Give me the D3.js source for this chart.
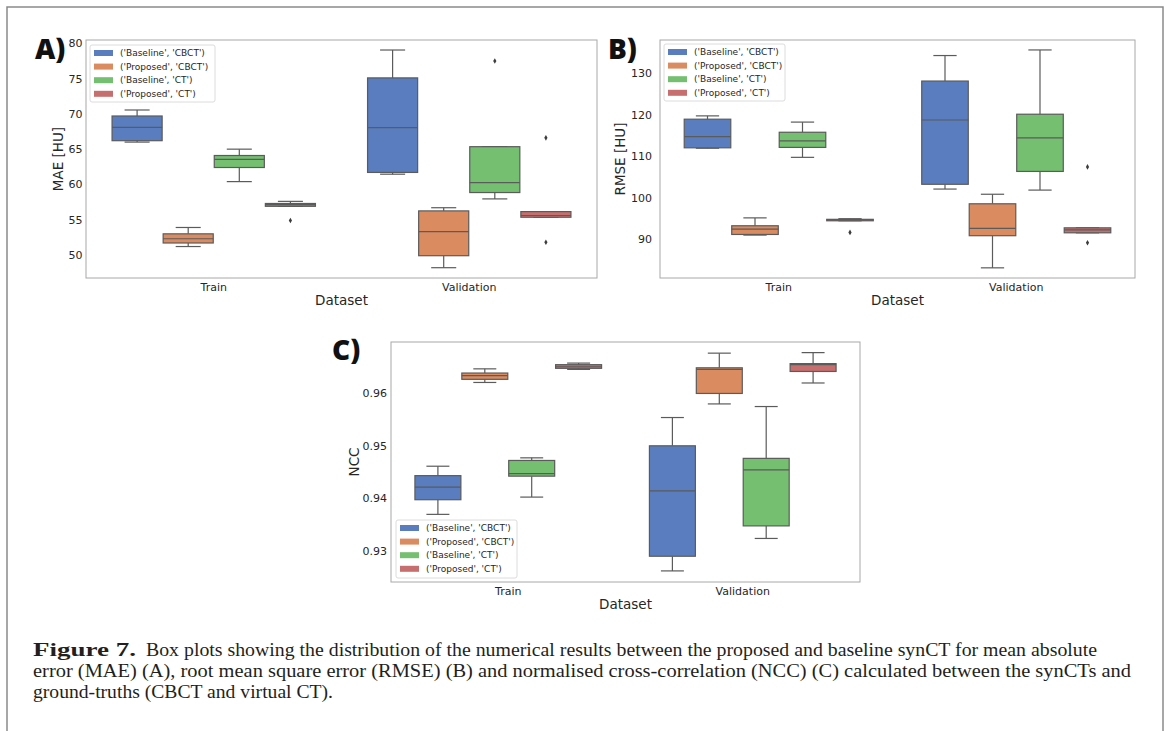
<!DOCTYPE html>
<html>
<head>
<meta charset="utf-8">
<script src="https://cdn.jsdelivr.net/npm/d3@7"></script>
<style>
  body { margin: 0; background: #fff; }
  svg { display: block; }
</style>
</head>
<body>
<script>
const datasets = ['Train', 'Validation'];
const series = ["('Baseline', 'CBCT')", "('Proposed', 'CBCT')", "('Baseline', 'CT')", "('Proposed', 'CT')"];
const colors = ['#597dbf', '#da8b5f', '#75bf71', '#c76e6e'];

// [low whisker, Q1, median, Q3, high whisker], one row per series
const maeTrain = [[66.0, 66.2, 68.1, 69.7, 70.55], [51.2, 51.7, 52.3, 53.0, 53.9], [60.4, 62.4, 63.55, 64.1, 65.0], [56.9, 56.9, 57.15, 57.3, 57.6]];
const maeValidation = [[61.45, 61.7, 68.05, 75.1, 79.05], [48.2, 49.9, 53.3, 56.25, 56.7], [57.95, 58.85, 60.25, 65.35, 65.35], [55.35, 55.35, 55.6, 56.15, 56.15]];
// [dataset index, series index, value]
const maeOutliers = [[0, 3, 54.9], [1, 2, 77.5], [1, 3, 66.6], [1, 3, 51.8]];
const maeTicks = [50, 55, 60, 65, 70, 75, 80];

const rmseTrain = [[111.9, 112.0, 114.7, 118.9, 119.7], [90.95, 91.1, 92.4, 93.2, 95.1], [109.7, 112.1, 113.65, 115.75, 118.2], [94.4, 94.4, 94.6, 94.75, 94.9]];
const rmseValidation = [[102.05, 103.2, 118.7, 128.1, 134.25], [83.05, 90.8, 92.55, 98.5, 100.8], [101.8, 106.3, 114.4, 120.1, 135.6], [91.5, 91.5, 92.2, 92.7, 92.7]];
const rmseOutliers = [[0, 3, 91.6], [1, 3, 107.4], [1, 3, 89.1]];
const rmseTicks = [90, 100, 110, 120, 130];

const nccTrain = [[0.9369, 0.9397, 0.9421, 0.9443, 0.9461], [0.9621, 0.9627, 0.9634, 0.9639, 0.9647], [0.9402, 0.9442, 0.9447, 0.9472, 0.9477], [0.9646, 0.9648, 0.9651, 0.9655, 0.9658]];
const nccValidation = [[0.9261, 0.9289, 0.9414, 0.9500, 0.9554], [0.9580, 0.9600, 0.9646, 0.9649, 0.9677], [0.9323, 0.9347, 0.9454, 0.9476, 0.9575], [0.9620, 0.9642, 0.9655, 0.9657, 0.9678]];
const nccOutliers = [];
const nccTicks = [0.93, 0.94, 0.95, 0.96];

const W = 1167, H = 731;
const svg = d3.select('body').append('svg')
  .attr('width', W)
  .attr('height', H);

// figure frame
svg.append('path')
  .attr('d', 'M7,' + H + 'V7H1163V' + H)
  .attr('fill', 'none')
  .attr('stroke', '#8a8a8a')
  .attr('stroke-width', 1.5);

var panels = [
  { tag: 'A)', stats: [maeTrain, maeValidation], outliers: maeOutliers, ticks: maeTicks, fmt: d3.format('d'),
    ylabel: 'MAE [HU]', x0: 86, x1: 597, y0: 40, y1: 278, domain: [46.74, 80.47], gap: 3.5, ylabX: 58,
    legend: { x: 90, y: 45, w: 125, h: 57 }, tagX: 35, tagY: 59 },
  { tag: 'B)', stats: [rmseTrain, rmseValidation], outliers: rmseOutliers, ticks: rmseTicks, fmt: d3.format('d'),
    ylabel: 'RMSE [HU]', x0: 660, x1: 1135, y0: 40, y1: 278, domain: [80.6, 138.0], gap: 8, ylabX: 620,
    legend: { x: 664, y: 44, w: 121, h: 57 }, tagX: 608, tagY: 59 },
  { tag: 'C)', stats: [nccTrain, nccValidation], outliers: nccOutliers, ticks: nccTicks, fmt: d3.format('.2f'),
    ylabel: 'NCC', x0: 391, x1: 860, y0: 342, y1: 582, domain: [0.92398, 0.96983], gap: 4, ylabX: 354,
    legend: { x: 396, y: 520, w: 121, h: 58 }, tagX: 332, tagY: 360 }
];

var lineColor = '#5b5b5b';

panels.forEach(function(p) {
  var g = svg.append('g');

  var x = d3.scaleBand().domain(datasets).range([p.x0, p.x1]);
  var xs = d3.scaleBand().domain(d3.range(series.length))
    .range([0.1 * x.bandwidth(), 0.9 * x.bandwidth()]);
  var y = d3.scaleLinear().domain(p.domain).range([p.y1, p.y0]);
  var bw = xs.bandwidth() * 0.98;

  // axes frame
  g.append('rect')
    .attr('x', p.x0).attr('y', p.y0)
    .attr('width', p.x1 - p.x0).attr('height', p.y1 - p.y0)
    .attr('fill', 'none')
    .attr('stroke', '#a8a8a8')
    .attr('stroke-width', 1);

  // y axis
  var yAxis = d3.axisLeft(y).tickValues(p.ticks).tickFormat(p.fmt).tickSize(0).tickPadding(p.gap);
  var ya = g.append('g').attr('transform', 'translate(' + p.x0 + ',0)').call(yAxis);
  ya.select('.domain').remove();
  ya.selectAll('text')
    .attr('font-family', 'DejaVu Sans')
    .attr('font-size', 11)
    .attr('fill', '#262626');

  // x axis
  var xAxis = d3.axisBottom(x).tickSize(0).tickPadding(5);
  var xa = g.append('g').attr('transform', 'translate(0,' + p.y1 + ')').call(xAxis);
  xa.select('.domain').remove();
  xa.selectAll('text')
    .attr('font-family', 'DejaVu Sans')
    .attr('font-size', 11)
    .attr('fill', '#262626');

  g.append('text')
    .attr('x', (p.x0 + p.x1) / 2)
    .attr('y', p.y1 + 27)
    .attr('text-anchor', 'middle')
    .attr('font-family', 'DejaVu Sans')
    .attr('font-size', 13.5)
    .attr('fill', '#262626')
    .text('Dataset');

  g.append('text')
    .attr('transform', 'translate(' + p.ylabX + ',' + (p.y0 + p.y1) / 2 + ') rotate(-90)')
    .attr('text-anchor', 'middle')
    .attr('dy', '0.35em')
    .attr('font-family', 'DejaVu Sans')
    .attr('font-size', 13.5)
    .attr('fill', '#262626')
    .text(p.ylabel);

  // boxes
  p.stats.forEach(function(rows, di) {
    rows.forEach(function(s, si) {
      var cx = x(datasets[di]) + xs(si) + xs.bandwidth() / 2;
      var b = g.append('g');
      b.append('line')
        .attr('x1', cx).attr('x2', cx)
        .attr('y1', y(s[0])).attr('y2', y(s[1]))
        .attr('stroke', lineColor).attr('stroke-width', 1.2);
      b.append('line')
        .attr('x1', cx).attr('x2', cx)
        .attr('y1', y(s[3])).attr('y2', y(s[4]))
        .attr('stroke', lineColor).attr('stroke-width', 1.2);
      [s[0], s[4]].forEach(function(v) {
        b.append('line')
          .attr('x1', cx - bw / 4).attr('x2', cx + bw / 4)
          .attr('y1', y(v)).attr('y2', y(v))
          .attr('stroke', lineColor).attr('stroke-width', 1.2);
      });
      b.append('rect')
        .attr('x', cx - bw / 2)
        .attr('y', y(s[3]))
        .attr('width', bw)
        .attr('height', Math.max(1, y(s[1]) - y(s[3])))
        .attr('fill', colors[si])
        .attr('stroke', lineColor)
        .attr('stroke-width', 1.2);
      b.append('line')
        .attr('x1', cx - bw / 2).attr('x2', cx + bw / 2)
        .attr('y1', y(s[2])).attr('y2', y(s[2]))
        .attr('stroke', lineColor).attr('stroke-width', 1.2);
    });
  });

  // outliers
  g.selectAll('.flier')
    .data(p.outliers)
    .enter()
    .append('path')
    .attr('class', 'flier')
    .attr('d', d3.symbol().type(d3.symbolDiamond).size(9))
    .attr('transform', function(d) {
      var cx = x(datasets[d[0]]) + xs(d[1]) + xs.bandwidth() / 2;
      return 'translate(' + cx + ',' + y(d[2]) + ')';
    })
    .attr('fill', '#3d3d3d');

  // legend
  var lg = g.append('g');
  lg.append('rect')
    .attr('x', p.legend.x).attr('y', p.legend.y)
    .attr('width', p.legend.w).attr('height', p.legend.h)
    .attr('rx', 2)
    .attr('fill', '#fff').attr('fill-opacity', 0.85)
    .attr('stroke', '#dcdcdc');
  series.forEach(function(name, i) {
    var cy = p.legend.y + 8 + i * 13.6;
    lg.append('rect')
      .attr('x', p.legend.x + 4).attr('y', cy - 3)
      .attr('width', 19).attr('height', 6)
      .attr('fill', colors[i]);
    lg.append('text')
      .attr('x', p.legend.x + 30).attr('y', cy)
      .attr('dy', '0.35em')
      .attr('font-family', 'DejaVu Sans')
      .attr('font-size', 9)
      .attr('fill', '#262626')
      .text(name);
  });

  // panel tag
  svg.append('text')
    .attr('x', p.tagX).attr('y', p.tagY)
    .attr('font-family', 'Open Sans')
    .attr('font-weight', 800)
    .attr('font-size', 28)
    .attr('fill', '#111')
    .text(p.tag);
});

// caption
var cap = svg.append('g')
  .attr('font-family', 'Liberation Serif')
  .attr('font-size', 18.5)
  .attr('fill', '#231f20');
cap.append('text').attr('x', 33).attr('y', 656)
  .attr('font-weight', 'bold')
  .attr('textLength', 103).attr('lengthAdjust', 'spacingAndGlyphs')
  .text('Figure 7.');
cap.append('text').attr('x', 146).attr('y', 656)
  .attr('textLength', 951).attr('lengthAdjust', 'spacingAndGlyphs')
  .text('Box plots showing the distribution of the numerical results between the proposed and baseline synCT for mean absolute');
cap.append('text').attr('x', 33).attr('y', 677)
  .attr('textLength', 1098).attr('lengthAdjust', 'spacingAndGlyphs')
  .text('error (MAE) (A), root mean square error (RMSE) (B) and normalised cross-correlation (NCC) (C) calculated between the synCTs and');
cap.append('text').attr('x', 33).attr('y', 698)
  .attr('textLength', 300).attr('lengthAdjust', 'spacingAndGlyphs')
  .text('ground-truths (CBCT and virtual CT).');
</script>
</body>
</html>
